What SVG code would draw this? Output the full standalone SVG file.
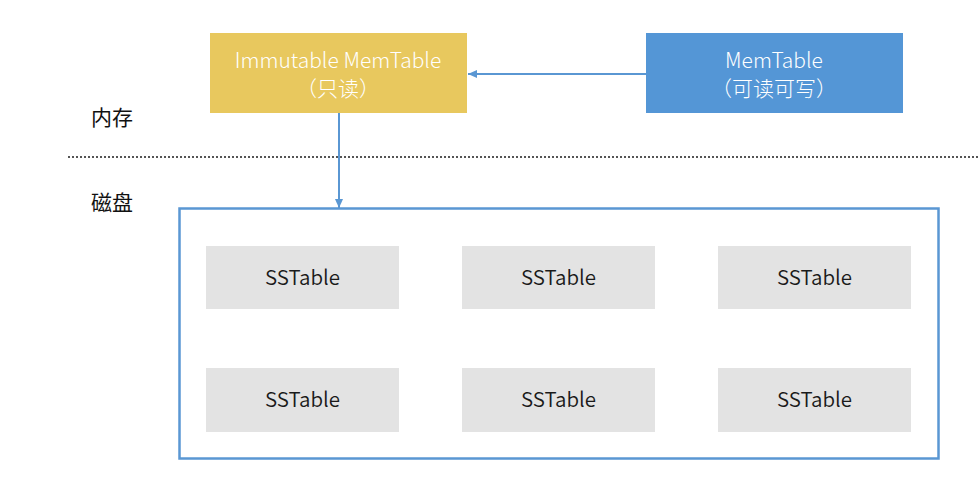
<svg xmlns="http://www.w3.org/2000/svg" width="980" height="478" viewBox="0 0 980 478">
<style>
text{font-family:"Noto Sans CJK SC","Noto Sans",sans-serif;font-size:21px;text-anchor:middle;font-weight:300}
.w{fill:#fff}
.d{fill:#1a1a1a;font-size:20.5px;font-weight:350}
.ss{fill:#e3e3e3}
.lbl{text-anchor:start;fill:#111;font-weight:400}
.c{stroke:#5a97d3;stroke-width:2;fill:none}
</style>
<defs>
<marker id="ah" markerWidth="10" markerHeight="10" refX="9" refY="5" orient="auto" markerUnits="userSpaceOnUse">
<path d="M0,1 L9,5 L0,9 Z" fill="#5a97d3"/>
</marker>
</defs>
<rect width="980" height="478" fill="#fff"/>
<text class="lbl" x="91" y="125">内存</text>
<text class="lbl" x="91" y="210">磁盘</text>
<line x1="68" y1="157" x2="980" y2="157" stroke="#555" stroke-width="2" stroke-dasharray="2,2"/>
<g id="immutable">
<rect x="210" y="33" width="257" height="80" fill="#e8c85e"/>
<text class="w" x="338" y="68">Immutable MemTable</text>
<text class="w" x="338" y="96">（只读）</text>
</g>
<g id="memtable">
<rect x="646" y="33" width="257" height="80" fill="#5496d6"/>
<text class="w" x="774" y="68">MemTable</text>
<text class="w" x="774" y="96">（可读可写）</text>
</g>
<g id="disk">
<rect x="179.5" y="208.5" width="759" height="250" fill="none" stroke="#5a97d3" stroke-width="2.5"/>
</g>
<g id="ss1"><rect class="ss" x="206" y="246" width="193" height="63"/><text class="d" x="302.5" y="285">SSTable</text></g>
<g id="ss2"><rect class="ss" x="462" y="246" width="193" height="63"/><text class="d" x="558.5" y="285">SSTable</text></g>
<g id="ss3"><rect class="ss" x="718" y="246" width="193" height="63"/><text class="d" x="814.5" y="285">SSTable</text></g>
<g id="ss4"><rect class="ss" x="206" y="368" width="193" height="64"/><text class="d" x="302.5" y="407">SSTable</text></g>
<g id="ss5"><rect class="ss" x="462" y="368" width="193" height="64"/><text class="d" x="558.5" y="407">SSTable</text></g>
<g id="ss6"><rect class="ss" x="718" y="368" width="193" height="64"/><text class="d" x="814.5" y="407">SSTable</text></g>
<g id="connectors">
<line class="c" x1="646" y1="74" x2="468" y2="74" marker-end="url(#ah)"/>
<line class="c" x1="339" y1="113" x2="339" y2="208" marker-end="url(#ah)"/>
</g>
</svg>
